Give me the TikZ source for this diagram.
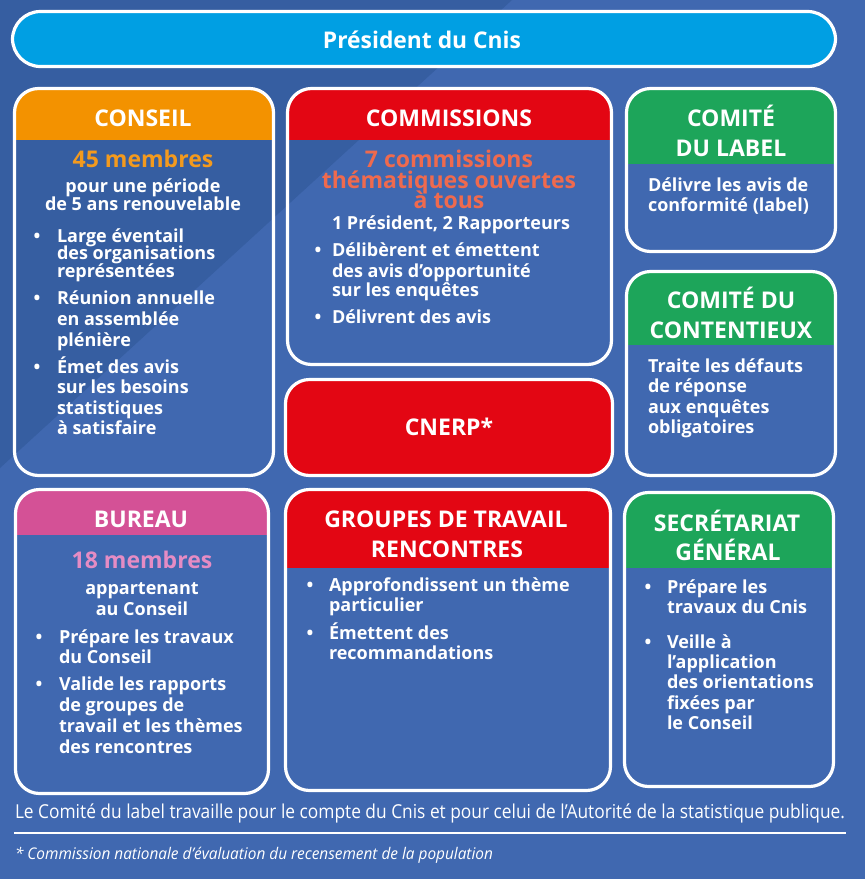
\documentclass[tikz,border=0pt]{standalone}
\usepackage{fontspec}
\setmainfont{Open Sans}
\usetikzlibrary{calc}
\definecolor{bgl}{HTML}{4068B0}
\definecolor{bgd}{HTML}{365EA1}
\definecolor{cyanh}{HTML}{009FE3}
\definecolor{orangeh}{HTML}{F39200}
\definecolor{redh}{HTML}{E30613}
\definecolor{greenh}{HTML}{1DA55A}
\definecolor{pinkh}{HTML}{D45196}
\definecolor{orangetx}{HTML}{F39A1E}
\definecolor{salmontx}{HTML}{EF6A4E}
\definecolor{pinktx}{HTML}{E58CC4}
\newcommand\orgbox[6]{%
  \begin{scope}
    \clip[rounded corners=24] (#1,#2) rectangle (#3,#4);
    \fill[#6] (#1,#2) rectangle (#3,#5);
  \end{scope}
  \draw[boxline] (#1,#2) rectangle (#3,#4);}
\newcommand\Lw[4]{\node[tx,anchor=mid west] (#1) at (#2,#3+4) {#4};}
\newcommand\Lc[4]{\node[tx,anchor=mid] (#1) at (#2,#3+4) {#4};}
\newcommand\Bu[3]{\node[tx,anchor=mid] (#1) at (#2,#3+4) {•};}
\begin{document}
\begin{tikzpicture}[x=1pt,y=-1pt,
  every node/.style={inner sep=0pt,outer sep=0pt},
  boxline/.style={white,line width=3.2pt,rounded corners=24},
  hd/.style={font=\fontsize{23}{26}\selectfont\bfseries,text=white},
  tx/.style={font=\fontsize{18}{20}\selectfont\bfseries,text=white},
  big/.style={font=\fontsize{23}{24}\selectfont\bfseries}]
\useasboundingbox (0,0) rectangle (865,879);
\fill[bgl] (0,0) rectangle (865,879);
\fill[bgd] (0,0) -- (512,0) -- (0,468) -- cycle;

% President
\fill[cyanh,rounded corners=28] (12.5,11.5) rectangle (835.5,66.5);
\draw[white,line width=3.2pt,rounded corners=28] (12.5,11.5) rectangle (835.5,66.5);
\node[text=white] (pres) at (422,39.5) {\resizebox{198pt}{17.6pt}{\bfseries Président du Cnis}};

% boxes
\orgbox{14.5}{88.5}{273.5}{475.5}{140}{orangeh}
\orgbox{287.5}{88.5}{611.5}{364.5}{140}{redh}
\fill[redh,rounded corners=24] (285.5,379.5) rectangle (612.5,475.5);
\draw[boxline] (285.5,379.5) rectangle (612.5,475.5);
\orgbox{626.5}{88.5}{835.5}{251.5}{164}{greenh}
\orgbox{626.5}{271.5}{835.5}{475.5}{345}{greenh}
\orgbox{15.5}{489.5}{268.5}{793.5}{535}{pinkh}
\orgbox{285.5}{489.5}{610.5}{790.5}{568}{redh}
\orgbox{624.5}{492.5}{833.5}{786.5}{568}{greenh}

% CONSEIL
\node[hd] (hc) at (143,118) {CONSEIL};
\node[big,text=orangetx] (c0) at (143,159) {45 membres};
\Lc{c1}{143}{186}{pour une période}
\Lc{c2}{143}{204}{de 5 ans renouvelable}
\Bu{cb1}{37}{236}\Bu{cb2}{37}{298}\Bu{cb3}{37}{367}
\Lw{c3}{57}{236}{Large éventail}
\Lw{c4}{57}{253}{des organisations}
\Lw{c5}{57}{271}{représentées}
\Lw{c6}{57}{298}{Réunion annuelle}
\Lw{c7}{57}{319}{en assemblée}
\Lw{c8}{57}{340}{plénière}
\Lw{c9}{57}{367}{Émet des avis}
\Lw{c10}{57}{387}{sur les besoins}
\Lw{c11}{57}{408}{statistiques}
\Lw{c12}{57}{428}{à satisfaire}

% COMMISSIONS
\node[hd] (hm) at (449,118) {COMMISSIONS};
\node[big,text=salmontx,anchor=mid] (m0) at (449,165) {7 commissions};
\node[big,text=salmontx,anchor=mid] (m1) at (449,186) {thématiques ouvertes};
\node[big,text=salmontx,anchor=mid] (m2) at (449,206) {à tous};
\Lc{m3}{451}{223}{1 Président, 2 Rapporteurs}
\Bu{mb1}{318}{250}\Bu{mb2}{318}{317}
\Lw{m4}{332}{250}{Délibèrent et émettent}
\Lw{m5}{332}{271}{des avis d’opportunité}
\Lw{m6}{332}{290}{sur les enquêtes}
\Lw{m7}{332}{317}{Délivrent des avis}

% CNERP
\node[hd] (hn) at (449,427) {CNERP*};

% COMITE DU LABEL
\node[hd] (hl1) at (731,116) {COMITÉ};
\node[hd] (hl2) at (731,148) {DU LABEL};
\Lw{l1}{648}{185}{Délivre les avis de}
\Lw{l2}{648}{205}{conformité (label)}

% CONTENTIEUX
\node[hd] (ht1) at (731,298) {COMITÉ DU};
\node[hd] (ht2) at (731,330) {CONTENTIEUX};
\Lw{t1}{648}{366}{Traite les défauts}
\Lw{t2}{648}{386}{de réponse}
\Lw{t3}{648}{407}{aux enquêtes}
\Lw{t4}{648}{427}{obligatoires}

% BUREAU
\node[hd] (hb) at (141,519) {BUREAU};
\node[big,text=pinktx] (b0) at (142,560) {18 membres};
\Lc{b1}{142}{588}{appartenant}
\Lc{b2}{142}{609}{au Conseil}
\Bu{bb1}{39}{637}\Bu{bb2}{39}{684}
\Lw{b3}{59}{637}{Prépare les travaux}
\Lw{b4}{59}{657}{du Conseil}
\Lw{b5}{59}{684}{Valide les rapports}
\Lw{b6}{59}{705}{de groupes de}
\Lw{b7}{59}{726}{travail et les thèmes}
\Lw{b8}{59}{747}{des rencontres}

% GROUPES
\node[hd] (hg1) at (446,519) {GROUPES DE TRAVAIL};
\node[hd] (hg2) at (447,549) {RENCONTRES};
\Bu{gb1}{310}{585}\Bu{gb2}{310}{633}
\Lw{g1}{329}{585}{Approfondissent un thème}
\Lw{g2}{329}{605}{particulier}
\Lw{g3}{329}{633}{Émettent des}
\Lw{g4}{329}{653}{recommandations}

% SECRETARIAT
\node[hd] (hs1) at (727,521) {SECRÉTARIAT};
\node[hd] (hs2) at (728,550) {GÉNÉRAL};
\Bu{sb1}{648}{587}\Bu{sb2}{648}{642}
\Lw{s1}{667}{587}{Prépare les}
\Lw{s2}{667}{607}{travaux du Cnis}
\Lw{s3}{667}{642}{Veille à}
\Lw{s4}{667}{662}{l’application}
\Lw{s5}{667}{682}{des orientations}
\Lw{s6}{667}{703}{fixées par}
\Lw{s7}{667}{723}{le Conseil}

% footer
\node[text=white,anchor=base west] (foot) at (15,818) {\resizebox{830pt}{14.7pt}{\fontsize{17}{20}\selectfont Le Comité du label travaille pour le compte du Cnis et pour celui de l’Autorité de la statistique publique.}};
\draw[white,line width=2.5pt] (14,833) -- (846,833);
\node[text=white,anchor=base west] (note) at (15,859) {\resizebox{478pt}{12.3pt}{\fontsize{14}{16}\selectfont\itshape * Commission nationale d’évaluation du recensement de la population}};
\end{tikzpicture}
\end{document}
